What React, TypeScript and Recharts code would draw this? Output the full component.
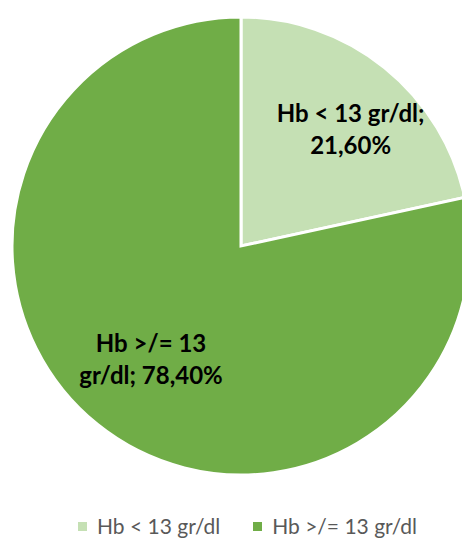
import { Legend, Pie, PieChart, Cell } from "recharts";

const categories = ["Hb < 13 gr/dl", "Hb >/= 13 gr/dl"];
const shares = [21.6, 78.4];
// each label is split into two lines, the way the slices show them
const labelLines = [
    ["Hb < 13 gr/dl;", "21,60%"],
    ["Hb >/= 13", "gr/dl; 78,40%"],
];

const COLORS = ["#c5e0b4", "#70ad47"];
const LABEL_RADIUS = [0.7, 0.633];
// small nudge of each label block away from its mid-angle point
const LABEL_NUDGE = [[9, 8], [1, 0]];
const FONT = "Lato, 'Open Sans', sans-serif";

const data = categories.map((name, i) => ({ name, value: shares[i] }));

const RADIAN = Math.PI / 180;

function SliceLabel(props: any) {
    const { cx, cy, midAngle, outerRadius, index } = props;
    const r = outerRadius * LABEL_RADIUS[index];
    const x = cx + r * Math.cos(-midAngle * RADIAN) + LABEL_NUDGE[index][0];
    const y = cy + r * Math.sin(-midAngle * RADIAN) + LABEL_NUDGE[index][1];
    const lines = labelLines[index];
    return (
        <text
            x={x}
            y={y}
            textAnchor="middle"
            fill="#000"
            fontFamily={FONT}
            fontWeight={700}
            fontSize={24}
        >
            {lines.map((line, i) => (
                <tspan key={i} x={x} dy={i === 0 ? -7 : 32}>{line}</tspan>
            ))}
        </text>
    );
}

function LegendContent() {
    return (
        <div style={{ display: "flex", justifyContent: "center", gap: 33, fontFamily: FONT, fontSize: 21, color: "#595959", paddingLeft: 33 }}>
            {data.map((d, i) => (
                <div key={d.name} style={{ display: "flex", alignItems: "center" }}>
                    <span style={{ width: 9, height: 9, background: COLORS[i], marginRight: 10, display: "inline-block" }} />
                    <span>{d.name}</span>
                </div>
            ))}
        </div>
    );
}

export default function App() {
    return (
        <div style={{ position: "fixed", top: 0, left: 0, width: 462, height: 541, background: "#fff", overflow: "hidden" }}>
            <style>{"body { margin: 0; overflow: hidden; }"}</style>
            <PieChart width={462} height={541} margin={{ top: 0, right: 0, bottom: 0, left: 0 }}>
                <Pie
                    data={data}
                    dataKey="value"
                    cx={241}
                    cy={246}
                    outerRadius={229}
                    startAngle={90}
                    endAngle={-270}
                    stroke="#ffffff"
                    strokeWidth={3}
                    label={SliceLabel}
                    labelLine={false}
                    isAnimationActive={false}
                >
                    {data.map((entry, index) => (
                        <Cell key={`cell-${index}`} fill={COLORS[index]} />
                    ))}
                </Pie>
                <Legend
                    verticalAlign="bottom"
                    content={LegendContent}
                    wrapperStyle={{ bottom: 0, left: 0, width: 462, height: 30, lineHeight: "30px" }}
                />
            </PieChart>
        </div>
    );
}
